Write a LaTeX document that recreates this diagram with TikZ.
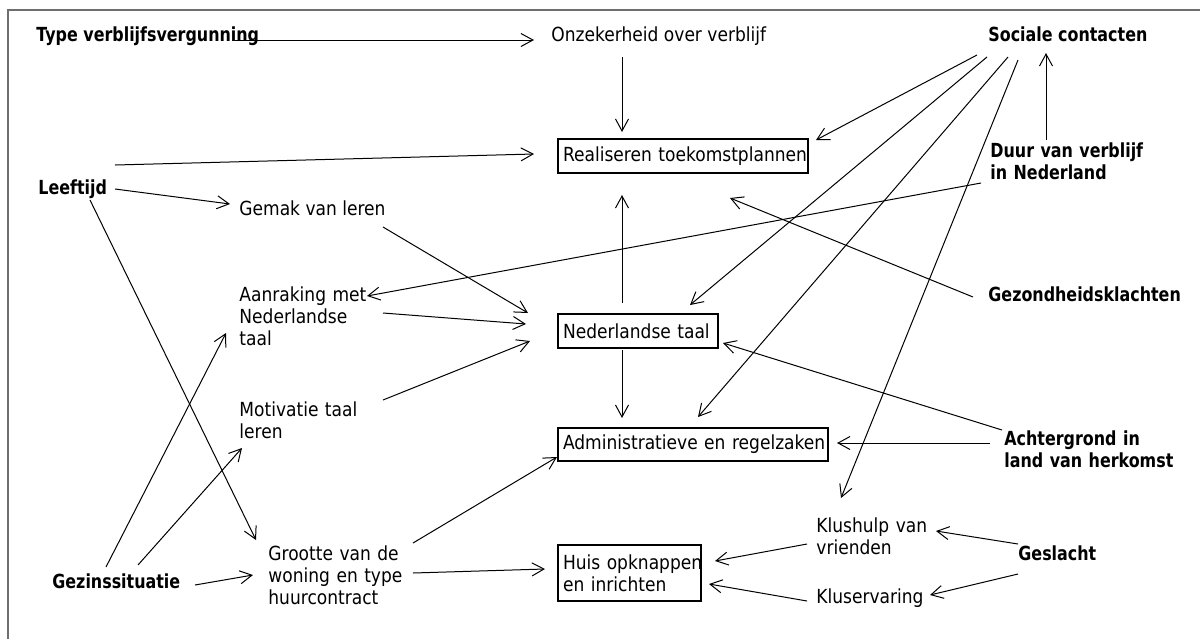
\documentclass[tikz,border=0pt]{standalone}
\usepackage{fontspec}
\setmainfont{DejaVu Sans}[UprightFeatures={FakeStretch=0.88},BoldFeatures={FakeStretch=0.82}]
\usepackage{tikz}
\usetikzlibrary{arrows.meta}
\definecolor{randgrijs}{RGB}{110,110,110}

\begin{document}
\begin{tikzpicture}[x=0.5pt,y=-0.5pt,
    font=\fontsize{9.7}{11}\selectfont,
    tekst/.style={inner sep=0pt,anchor=base west,align=left},
    vet/.style={tekst,font=\fontsize{9.7}{11}\selectfont\bfseries},
    blok/.style={draw,line width=1pt,anchor=north west,inner xsep=2.5pt,inner ysep=0pt,align=left},
    pijl/.style={-{Straight Barb[length=6pt,width=6.5pt]},line width=0.5pt}]
    \useasboundingbox (0,0) rectangle (1200,639);
    \draw[randgrijs,line width=1pt] (8,639) -- (8,10) -- (1200,10);

    \node[vet] (tvv) at (36,41) {Type verblijfsvergunning};
    \node[tekst] (onz) at (551,41) {Onzekerheid over verblijf};
    \node[vet] (soc) at (988,41) {Sociale contacten};
    \node[blok,text width=120pt,minimum height=17pt] (real) at (557,138) {\mbox{Realiseren toekomstplannen}};
    \node[vet,text width=100pt] (duur) at (990,157) {Duur van verblijf\\in Nederland};
    \node[vet] (lft) at (38,194) {Leeftijd};
    \node[tekst] (gemak) at (239,215) {Gemak van leren};
    \node[tekst,text width=100pt] (aanr) at (239,301) {Aanraking met\\Nederlandse\\taal};
    \node[blok,text width=75pt,minimum height=17pt] (ned) at (557,313) {\mbox{Nederlandse taal}};
    \node[vet] (gez) at (988,301) {Gezondheidsklachten};
    \node[tekst,text width=100pt] (motiv) at (239,416) {Motivatie taal\\leren};
    \node[blok,text width=130pt,minimum height=16.5pt] (adm) at (557,427) {\mbox{Administratieve en regelzaken}};
    \node[vet,text width=100pt] (achter) at (1004,445) {Achtergrond in\\land van herkomst};
    \node[tekst,text width=100pt] (klus) at (816,532) {Klushulp van\\vrienden};
    \node[vet] (gesl) at (1018,560) {Geslacht};
    \node[vet] (gezin) at (52,588) {Gezinssituatie};
    \node[tekst,text width=100pt] (groot) at (268,560) {Grootte van de\\woning en type\\huurcontract};
    \node[blok,text width=66.5pt,minimum height=28pt] (huis) at (557,544) {\mbox{Huis opknappen}\\\mbox{en inrichten}};
    \node[tekst] (kluserv) at (816,603) {Kluservaring};

    \draw[pijl] ([shift={(199,-1)}]tvv.base west) -- ([shift={(-17,-1)}]onz.base west);
    \draw[pijl] ([shift={(71,16)}]onz.base west) -- ([shift={(65,-6)}]real.north west);
    \draw[pijl] ([shift={(77,-29)}]lft.base west) -- ([shift={(-23,16)}]real.north west);
    \draw[pijl] ([shift={(77,-5)}]lft.base west) -- ([shift={(-9,-11)}]gemak.base west);
    \draw[pijl] ([shift={(52,6)}]lft.base west) -- ([shift={(-12,-20)}]groot.base west);
    \draw[pijl] ([shift={(144,12)}]gemak.base west) -- ([shift={(-29,0)}]ned.north west);
    \draw[pijl] ([shift={(144,12)}]aanr.base west) -- ([shift={(-31,11)}]ned.north west);
    \draw[pijl] ([shift={(144,-16)}]motiv.base west) -- ([shift={(-27,28)}]ned.north west);
    \draw[pijl] ([shift={(-9,26)}]duur.base west) -- ([shift={(128,-5)}]aanr.base west);
    \draw[pijl] ([shift={(65,-10)}]ned.north west) -- ([shift={(65,57)}]real.north west);
    \draw[pijl] ([shift={(65,37)}]ned.north west) -- ([shift={(65,-9)}]adm.north west);
    \draw[pijl] ([shift={(-11,14)}]soc.base west) -- ([shift={(259,2)}]real.north west);
    \draw[pijl] ([shift={(-1,16)}]soc.base west) -- ([shift={(133,-8)}]ned.north west);
    \draw[pijl] ([shift={(20,16)}]soc.base west) -- ([shift={(141,-10)}]adm.north west);
    \draw[pijl] ([shift={(30,19)}]soc.base west) -- ([shift={(25,-34)}]klus.base west);
    \draw[pijl] ([shift={(56,-17)}]duur.base west) -- ([shift={(58,12)}]soc.base west);
    \draw[pijl] ([shift={(-15,-4)}]gez.base west) -- ([shift={(173,60)}]real.north west);
    \draw[pijl] ([shift={(-2,-15)}]achter.base west) -- ([shift={(166,30)}]ned.north west);
    \draw[pijl] ([shift={(-14,-2)}]achter.base west) -- ([shift={(280,16)}]adm.north west);
    \draw[pijl] ([shift={(54,-21)}]gezin.base west) -- ([shift={(-13,32)}]aanr.base west);
    \draw[pijl] ([shift={(86,-23)}]gezin.base west) -- ([shift={(3,32)}]motiv.base west);
    \draw[pijl] ([shift={(143,-3)}]gezin.base west) -- ([shift={(-15,15)}]groot.base west);
    \draw[pijl] ([shift={(145,-17)}]groot.base west) -- ([shift={(0,30)}]adm.north west);
    \draw[pijl] ([shift={(145,13)}]groot.base west) -- ([shift={(-12,25)}]huis.north west);
    \draw[pijl] ([shift={(-9,12)}]klus.base west) -- ([shift={(158,17)}]huis.north west);
    \draw[pijl] ([shift={(-9,-2)}]kluserv.base west) -- ([shift={(152,40)}]huis.north west);
    \draw[pijl] ([shift={(0,-16)}]gesl.base west) -- ([shift={(120,-1)}]klus.base west);
    \draw[pijl] ([shift={(0,14)}]gesl.base west) -- ([shift={(114,-8)}]kluserv.base west);
\end{tikzpicture}
\end{document}
